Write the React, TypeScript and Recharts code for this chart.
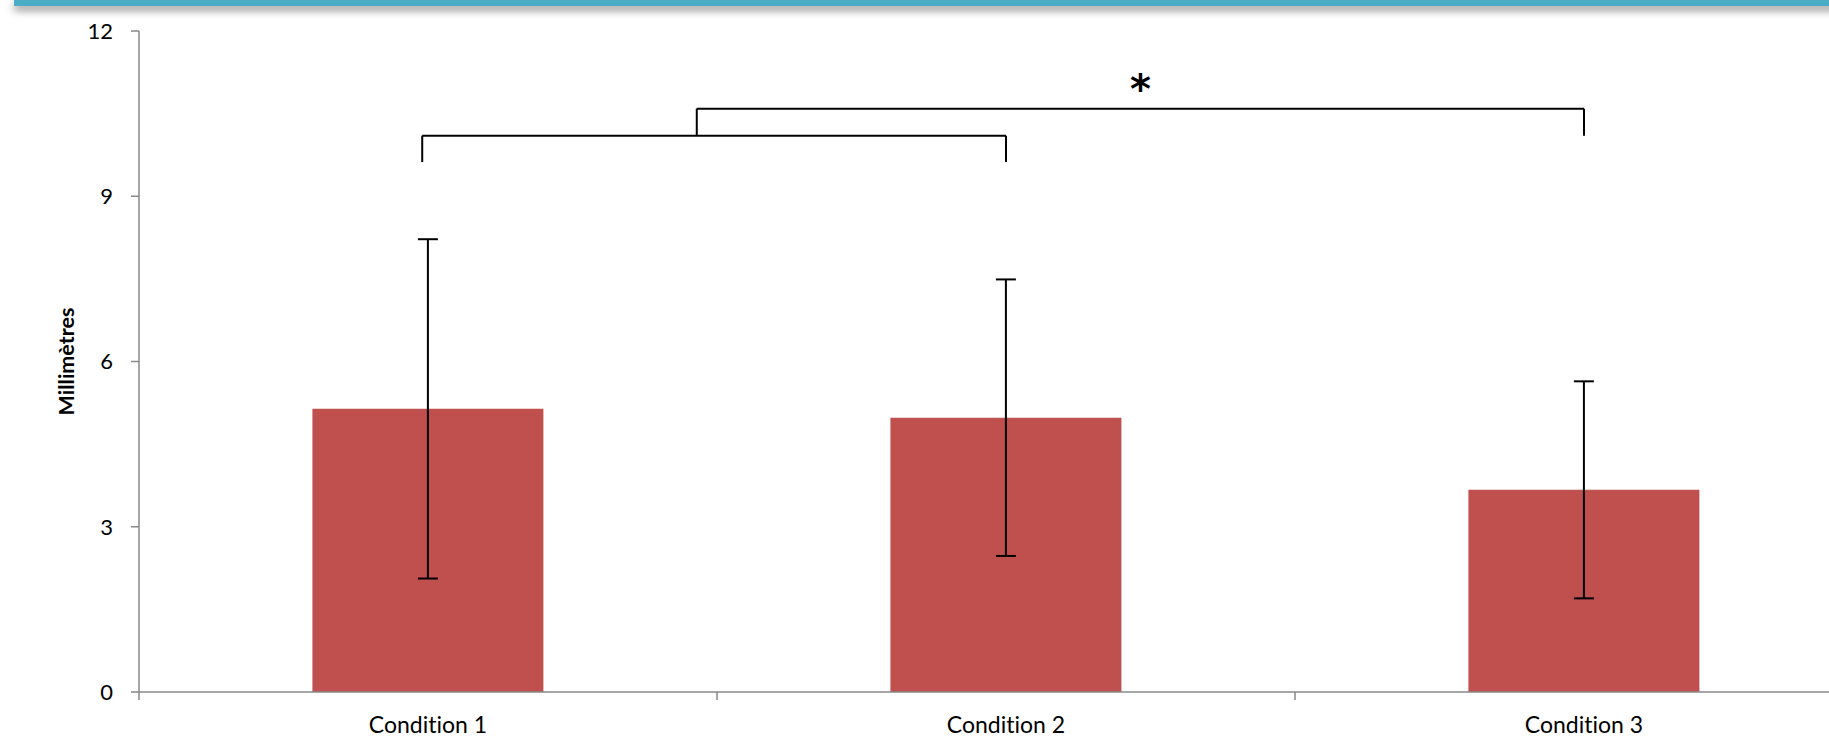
import React from 'react';
import { BarChart, Bar, XAxis, YAxis, ErrorBar, ReferenceLine } from 'recharts';

const categories = ['Condition 1', 'Condition 2', 'Condition 3'];
const means = [5.14, 4.98, 3.67];
const errors = [3.08, 2.51, 1.97];
const yTicks = [0, 3, 6, 9, 12];

// significance brackets in chart units (x in category-slot units, y in millimetres)
const bracketLow = { x1: 0.49, x2: 1.5, y: 10.1, drop: 9.62 };
const bracketHigh = { x1: 0.965, x2: 2.5, y: 10.59, drop: 10.1 };
const significance = '*';

// each category occupies one unit slot on the x axis; bars sit at slot centres
const data = categories.map((c, i) => ({ name: c, pos: i + 0.5, mean: means[i], err: errors[i] }));
const boundaryTicks = categories.map((_, i) => i).concat([categories.length]);
const xTicks = boundaryTicks.concat(data.map((d) => d.pos)).sort((a, b) => a - b);

const FONT = 'Lato, "Open Sans", sans-serif';
const AXIS = '#898989';

const AxisTitle = (props: any) => {
  const vb = props.viewBox || {};
  const cx = vb.x + 66;
  const cy = vb.y + vb.height / 2;
  return (
    <text x={cx} y={cy} transform={`rotate(-90, ${cx}, ${cy})`} textAnchor="middle" dominantBaseline="central"
      fontFamily={FONT} fontWeight={700} fontSize={21.5} fill="#000">Millimètres</text>
  );
};

const XTick = (props: any) => {
  const { x, y, payload } = props;
  const v = payload.value;
  if (Number.isInteger(v)) {
    return <line x1={x} y1={y} x2={x} y2={y + 8} stroke={AXIS} strokeWidth={1.5} />;
  }
  const label = categories[Math.floor(v)];
  return (
    <text x={x} y={y + 25} dy="0.71em" textAnchor="middle" fontFamily={FONT} fontSize={23} fill="#000"
      style={{ fontVariantLigatures: 'none' }}>{label}</text>
  );
};

function bracketSegments(b: { x1: number; x2: number; y: number; drop: number }) {
  return [
    [{ x: b.x1, y: b.drop }, { x: b.x1, y: b.y }],
    [{ x: b.x1, y: b.y }, { x: b.x2, y: b.y }],
    [{ x: b.x2, y: b.y }, { x: b.x2, y: b.drop }],
  ];
}

export default function App() {
  const low = bracketSegments(bracketLow);
  const high = bracketSegments(bracketHigh);
  return (
    <div style={{ position: 'absolute', left: 0, top: 0, width: 1829, height: 737, overflow: 'hidden', background: '#fff' }}>
      <div style={{ position: 'absolute', left: 14, top: 0, width: 1829, height: 6, background: '#4BACC6', boxShadow: '0 4px 8px rgba(0,0,0,0.5)' }} />
      <BarChart width={1880} height={737} data={data} margin={{ top: 31, right: 7, bottom: 0, left: 0 }} barCategoryGap="30%">
        <XAxis dataKey="pos" type="number" domain={[0, categories.length]} allowDataOverflow ticks={xTicks} interval={0}
          height={45} stroke={AXIS} strokeWidth={1.5} tickLine={false} tickSize={0} tickMargin={0} tick={<XTick />} />
        <YAxis width={139} domain={[0, 12]} ticks={yTicks} stroke={AXIS} strokeWidth={1.5} tickSize={8} tickMargin={18}
          tick={{ fontFamily: FONT, fontSize: 22, fill: '#000' }} label={<AxisTitle />} />
        <Bar dataKey="mean" fill="#C0504D" isAnimationActive={false}>
          <ErrorBar dataKey="err" width={10} stroke="#000" strokeWidth={2} direction="y" />
        </Bar>
        {low.map((s, i) => (
          <ReferenceLine key={'l' + i} segment={s as any} stroke="#000" strokeWidth={2} />
        ))}
        {high.map((s, i) => (
          <ReferenceLine key={'h' + i} segment={s as any} stroke="#000" strokeWidth={2}
            label={i === 1 ? { value: significance, position: 'top', offset: 6, fontSize: 40, fontFamily: '"DejaVu Sans", sans-serif', fontWeight: 700, fill: '#000' } : undefined} />
        ))}
      </BarChart>
    </div>
  );
}
